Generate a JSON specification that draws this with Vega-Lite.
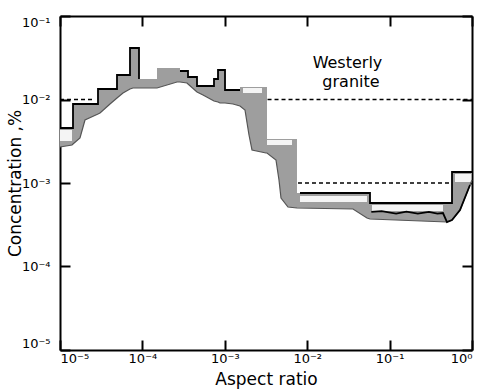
{
  "$schema": "https://vega.github.io/schema/vega-lite/v6.json",
  "width": 412,
  "height": 334,
  "autosize": "none",
  "padding": {"left": 60, "top": 16, "right": 16, "bottom": 40},
  "background": "white",
  "config": {
    "view": {"stroke": null},
    "font": "DejaVu Sans",
    "axis": {
      "grid": false,
      "domainColor": "black",
      "domainWidth": 2,
      "tickColor": "black",
      "tickWidth": 2,
      "tickSize": -10,
      "labelColor": "black",
      "titleColor": "black",
      "labelFont": "DejaVu Sans",
      "titleFont": "DejaVu Sans",
      "labelFontSize": 13,
      "titleFontSize": 17,
      "titleFontWeight": "normal"
    }
  },
  "datasets": {
    "band": [
      {"i": 1, "x": 1e-5, "hi": 4.557e-3, "lo": 2.698e-3},
      {"i": 2, "x": 1.398e-5, "hi": 4.557e-3, "lo": 2.852e-3},
      {"i": 3, "x": 1.438e-5, "hi": 4.557e-3, "lo": 2.931e-3},
      {"i": 4, "x": 1.438e-5, "hi": 8.834e-3, "lo": 2.931e-3},
      {"i": 5, "x": 1.748e-5, "hi": 8.834e-3, "lo": 3.458e-3},
      {"i": 6, "x": 2.010e-5, "hi": 8.834e-3, "lo": 5.682e-3},
      {"i": 7, "x": 2.891e-5, "hi": 8.834e-3, "lo": 6.704e-3},
      {"i": 8, "x": 2.891e-5, "hi": 1.336e-2, "lo": 6.704e-3},
      {"i": 9, "x": 3.058e-5, "hi": 1.336e-2, "lo": 6.891e-3},
      {"i": 10, "x": 4.044e-5, "hi": 1.336e-2, "lo": 8.834e-3},
      {"i": 11, "x": 4.916e-5, "hi": 1.336e-2, "lo": 1.042e-2},
      {"i": 12, "x": 4.916e-5, "hi": 1.965e-2, "lo": 1.042e-2},
      {"i": 13, "x": 5.815e-5, "hi": 1.965e-2, "lo": 1.196e-2},
      {"i": 14, "x": 7.071e-5, "hi": 1.965e-2, "lo": 1.336e-2},
      {"i": 15, "x": 7.071e-5, "hi": 4.138e-2, "lo": 1.336e-2},
      {"i": 16, "x": 7.689e-5, "hi": 4.138e-2, "lo": 1.373e-2},
      {"i": 17, "x": 9.094e-5, "hi": 4.138e-2, "lo": 1.373e-2},
      {"i": 18, "x": 9.094e-5, "hi": 1.760e-2, "lo": 1.373e-2},
      {"i": 19, "x": 1.504e-4, "hi": 1.760e-2, "lo": 1.373e-2},
      {"i": 20, "x": 1.504e-4, "hi": 2.383e-2, "lo": 1.373e-2},
      {"i": 21, "x": 2.629e-4, "hi": 2.383e-2, "lo": 1.621e-2},
      {"i": 22, "x": 2.859e-4, "hi": 2.383e-2, "lo": 1.621e-2},
      {"i": 23, "x": 2.859e-4, "hi": 2.195e-2, "lo": 1.621e-2},
      {"i": 24, "x": 3.478e-4, "hi": 2.195e-2, "lo": 1.576e-2},
      {"i": 25, "x": 3.577e-4, "hi": 2.195e-2, "lo": 1.533e-2},
      {"i": 26, "x": 3.577e-4, "hi": 1.860e-2, "lo": 1.533e-2},
      {"i": 27, "x": 4.599e-4, "hi": 1.860e-2, "lo": 1.230e-2},
      {"i": 28, "x": 4.599e-4, "hi": 1.451e-2, "lo": 1.230e-2},
      {"i": 29, "x": 5.437e-4, "hi": 1.451e-2, "lo": 1.132e-2},
      {"i": 30, "x": 7.393e-4, "hi": 1.451e-2, "lo": 9.594e-3},
      {"i": 31, "x": 7.393e-4, "hi": 1.760e-2, "lo": 9.594e-3},
      {"i": 32, "x": 8.271e-4, "hi": 1.760e-2, "lo": 9.334e-3},
      {"i": 33, "x": 8.271e-4, "hi": 2.256e-2, "lo": 9.334e-3},
      {"i": 34, "x": 8.745e-4, "hi": 2.256e-2, "lo": 9.081e-3},
      {"i": 35, "x": 1.006e-3, "hi": 2.256e-2, "lo": 9.081e-3},
      {"i": 36, "x": 1.006e-3, "hi": 1.300e-2, "lo": 9.081e-3},
      {"i": 37, "x": 1.257e-3, "hi": 1.300e-2, "lo": 8.834e-3},
      {"i": 38, "x": 1.529e-3, "hi": 1.300e-2, "lo": 8.361e-3},
      {"i": 39, "x": 1.529e-3, "hi": 1.411e-2, "lo": 8.361e-3},
      {"i": 40, "x": 1.758e-3, "hi": 1.411e-2, "lo": 7.486e-3},
      {"i": 41, "x": 1.967e-3, "hi": 1.411e-2, "lo": 3.757e-3},
      {"i": 42, "x": 2.138e-3, "hi": 1.411e-2, "lo": 2.485e-3},
      {"i": 43, "x": 3.162e-3, "hi": 1.411e-2, "lo": 2.287e-3},
      {"i": 44, "x": 3.251e-3, "hi": 1.411e-2, "lo": 2.287e-3},
      {"i": 45, "x": 3.251e-3, "hi": 3.364e-3, "lo": 2.287e-3},
      {"i": 46, "x": 4.180e-3, "hi": 3.364e-3, "lo": 1.886e-3},
      {"i": 47, "x": 4.546e-3, "hi": 3.364e-3, "lo": 1.086e-3},
      {"i": 48, "x": 4.809e-3, "hi": 3.364e-3, "lo": 6.612e-4},
      {"i": 49, "x": 5.848e-3, "hi": 3.364e-3, "lo": 5.160e-4},
      {"i": 50, "x": 7.517e-3, "hi": 3.364e-3, "lo": 5.020e-4},
      {"i": 51, "x": 7.517e-3, "hi": 7.589e-4, "lo": 5.020e-4},
      {"i": 52, "x": 3.595e-2, "hi": 7.589e-4, "lo": 4.883e-4},
      {"i": 53, "x": 5.317e-2, "hi": 7.589e-4, "lo": 3.808e-4},
      {"i": 54, "x": 5.782e-2, "hi": 7.589e-4, "lo": 3.705e-4},
      {"i": 55, "x": 5.782e-2, "hi": 5.761e-4, "lo": 3.705e-4},
      {"i": 56, "x": 0.4972, "hi": 5.761e-4, "lo": 3.411e-4},
      {"i": 57, "x": 0.5719, "hi": 5.761e-4, "lo": 3.604e-4},
      {"i": 58, "x": 0.5719, "hi": 1.354e-3, "lo": 3.604e-4},
      {"i": 59, "x": 0.7153, "hi": 1.354e-3, "lo": 4.751e-4},
      {"i": 60, "x": 0.8457, "hi": 1.354e-3, "lo": 7.181e-4},
      {"i": 61, "x": 0.9456, "hi": 1.354e-3, "lo": 9.462e-4},
      {"i": 62, "x": 1.0, "hi": 1.354e-3, "lo": 1.086e-3}
    ],
    "outline": [
      {"seg": "a", "i": 1, "x": 1e-5, "y": 4.557e-3},
      {"seg": "a", "i": 2, "x": 1.438e-5, "y": 4.557e-3},
      {"seg": "a", "i": 3, "x": 1.438e-5, "y": 8.834e-3},
      {"seg": "a", "i": 4, "x": 2.891e-5, "y": 8.834e-3},
      {"seg": "a", "i": 5, "x": 2.891e-5, "y": 1.336e-2},
      {"seg": "a", "i": 6, "x": 4.916e-5, "y": 1.336e-2},
      {"seg": "a", "i": 7, "x": 4.916e-5, "y": 1.965e-2},
      {"seg": "a", "i": 8, "x": 7.071e-5, "y": 1.965e-2},
      {"seg": "a", "i": 9, "x": 7.071e-5, "y": 4.138e-2},
      {"seg": "a", "i": 10, "x": 9.094e-5, "y": 4.138e-2},
      {"seg": "a", "i": 11, "x": 9.094e-5, "y": 1.76e-2},
      {"seg": "b", "i": 12, "x": 2.859e-4, "y": 2.195e-2},
      {"seg": "b", "i": 13, "x": 3.577e-4, "y": 2.195e-2},
      {"seg": "b", "i": 14, "x": 3.577e-4, "y": 1.86e-2},
      {"seg": "b", "i": 15, "x": 4.599e-4, "y": 1.86e-2},
      {"seg": "b", "i": 16, "x": 4.599e-4, "y": 1.451e-2},
      {"seg": "b", "i": 17, "x": 7.393e-4, "y": 1.451e-2},
      {"seg": "b", "i": 18, "x": 7.393e-4, "y": 1.76e-2},
      {"seg": "b", "i": 19, "x": 8.271e-4, "y": 1.76e-2},
      {"seg": "b", "i": 20, "x": 8.271e-4, "y": 2.256e-2},
      {"seg": "b", "i": 21, "x": 1.006e-3, "y": 2.256e-2},
      {"seg": "b", "i": 22, "x": 1.006e-3, "y": 1.3e-2},
      {"seg": "b", "i": 23, "x": 1.529e-3, "y": 1.3e-2},
      {"seg": "c", "i": 24, "x": 8.177e-3, "y": 7.589e-4},
      {"seg": "c", "i": 25, "x": 5.782e-2, "y": 7.589e-4},
      {"seg": "c", "i": 26, "x": 5.782e-2, "y": 5.761e-4},
      {"seg": "c", "i": 27, "x": 0.5719, "y": 5.761e-4},
      {"seg": "c", "i": 28, "x": 0.5719, "y": 1.354e-3},
      {"seg": "c", "i": 29, "x": 1.0, "y": 1.354e-3},
      {"seg": "d", "i": 30, "x": 6.0e-2, "y": 4.5e-4},
      {"seg": "d", "i": 31, "x": 0.08, "y": 4.6e-4},
      {"seg": "d", "i": 32, "x": 0.12, "y": 4.3e-4},
      {"seg": "d", "i": 33, "x": 0.16, "y": 4.55e-4},
      {"seg": "d", "i": 34, "x": 0.22, "y": 4.3e-4},
      {"seg": "d", "i": 35, "x": 0.3, "y": 4.5e-4},
      {"seg": "d", "i": 36, "x": 0.38, "y": 4.3e-4},
      {"seg": "d", "i": 37, "x": 0.4446, "y": 4.37e-4},
      {"seg": "d", "i": 38, "x": 0.4972, "y": 3.41e-4},
      {"seg": "d", "i": 39, "x": 0.5719, "y": 3.6e-4},
      {"seg": "d", "i": 40, "x": 0.7153, "y": 4.751e-4},
      {"seg": "d", "i": 41, "x": 0.8457, "y": 7.181e-4},
      {"seg": "d", "i": 42, "x": 0.9456, "y": 9.46e-4}
    ],
    "patches": [
      {"x": 1.0e-5, "x2": 1.398e-5, "y": 4.312e-3, "y2": 3.184e-3},
      {"x": 8.177e-3, "x2": 5.317e-2, "y": 6.986e-4, "y2": 5.922e-4},
      {"x": 6.114e-2, "x2": 0.4446, "y": 5.452e-4, "y2": 4.622e-4},
      {"x": 0.622, "x2": 0.972, "y": 1.282e-3, "y2": 1.028e-3},
      {"x": 1.663e-3, "x2": 2.828e-3, "y": 1.373e-2, "y2": 1.196e-2},
      {"x": 3.251e-3, "x2": 6.539e-3, "y": 3.273e-3, "y2": 2.852e-3}
    ],
    "dashes": [
      {"x": 1e-5, "x2": 2.66e-5, "y": 0.01},
      {"x": 3.3e-3, "x2": 1.0, "y": 0.01},
      {"x": 7.73e-3, "x2": 0.5719, "y": 0.001}
    ],
    "labels": [
      {"x": 3.08e-2, "y": 2.383e-2, "t": "Westerly"},
      {"x": 3.40e-2, "y": 1.411e-2, "t": "granite"}
    ]
  },
  "layer": [
    {
      "data": {"name": "band"},
      "mark": {"type": "area", "color": "#9e9e9e", "interpolate": "linear"},
      "encoding": {
        "x": {
          "field": "x", "type": "quantitative",
          "scale": {"type": "log", "domain": [1e-5, 1], "nice": false},
          "axis": {
            "orient": "bottom",
            "title": "Aspect ratio",
            "values": [1e-5, 1e-4, 1e-3, 1e-2, 1e-1, 1],
            "labelExpr": "'10' + ['⁰','⁻¹','⁻²','⁻³','⁻⁴','⁻⁵'][round(-log(datum.value)/LN10)]",
            "labelPadding": 12,
            "titlePadding": 6
          }
        },
        "y": {
          "field": "hi", "type": "quantitative",
          "scale": {"type": "log", "domain": [1e-5, 0.1], "nice": false},
          "axis": {
            "orient": "left",
            "title": "Concentration ,%",
            "values": [1e-5, 1e-4, 1e-3, 1e-2, 1e-1],
            "labelExpr": "'10' + ['⁰','⁻¹','⁻²','⁻³','⁻⁴','⁻⁵'][round(-log(datum.value)/LN10)]",
            "labelPadding": 20,
            "labelFlush": true,
            "titlePadding": -3
          }
        },
        "y2": {"field": "lo"}
      }
    },
    {
      "data": {"name": "patches"},
      "mark": {"type": "rect", "color": "#f4f4f4"},
      "encoding": {
        "x": {"field": "x", "type": "quantitative", "axis": null},
        "x2": {"field": "x2"},
        "y": {"field": "y", "type": "quantitative", "axis": null},
        "y2": {"field": "y2"}
      }
    },
    {
      "data": {"name": "band"},
      "mark": {"type": "line", "color": "#555555", "strokeWidth": 1.2},
      "encoding": {
        "x": {"field": "x", "type": "quantitative", "axis": null},
        "y": {"field": "lo", "type": "quantitative", "axis": null},
        "order": {"field": "i"}
      }
    },
    {
      "data": {"name": "outline"},
      "mark": {"type": "line", "color": "black", "strokeWidth": 1.8},
      "encoding": {
        "x": {"field": "x", "type": "quantitative", "axis": null},
        "y": {"field": "y", "type": "quantitative", "axis": null},
        "detail": {"field": "seg"},
        "order": {"field": "i"}
      }
    },
    {
      "data": {"name": "dashes"},
      "mark": {"type": "rule", "color": "black", "strokeWidth": 1.3, "strokeDash": [4, 3]},
      "encoding": {
        "x": {
          "field": "x", "type": "quantitative",
          "axis": {"orient": "top", "title": null, "labels": false, "values": [1e-5, 1e-4, 1e-3, 1e-2, 1e-1, 1]}
        },
        "x2": {"field": "x2"},
        "y": {
          "field": "y", "type": "quantitative",
          "axis": {"orient": "right", "title": null, "labels": false, "values": [1e-5, 1e-4, 1e-3, 1e-2, 1e-1]}
        }
      }
    },
    {
      "data": {"name": "labels"},
      "mark": {"type": "text", "fontSize": 16, "color": "black", "baseline": "alphabetic", "align": "center"},
      "encoding": {
        "x": {"field": "x", "type": "quantitative", "axis": null},
        "y": {"field": "y", "type": "quantitative", "axis": null},
        "text": {"field": "t"}
      }
    }
  ],
  "resolve": {"axis": {"x": "independent", "y": "independent"}}
}
